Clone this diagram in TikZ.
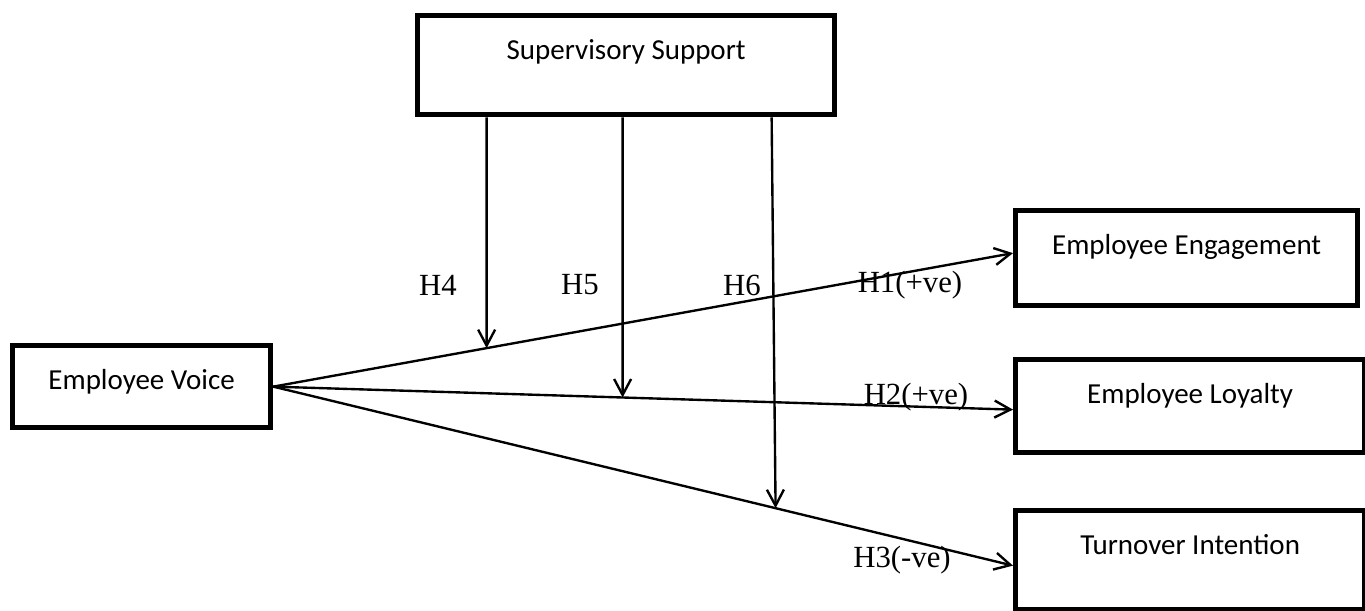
\documentclass[tikz,border=0pt]{standalone}
\usepackage{fontspec}
\setmainfont{Liberation Serif}
\newfontfamily\boxfont{Carlito}
\usetikzlibrary{arrows.meta}
\tikzset{
  varbox/.style={draw=black, line width=3pt, inner sep=0pt, anchor=north west,
    text height=0.88cm, font=\boxfont\fontsize{16.5}{19}\selectfont},
  link/.style={black, line width=1.35pt, -{Straight Barb[length=3.2mm, width=3.4mm, line width=1.35pt]}},
  hyp/.style={inner sep=0pt, font=\fontsize{17.5}{20}\selectfont}
}

\begin{document}
\begin{tikzpicture}
        \useasboundingbox (0,0) rectangle (27.3,12.2);
        % Constructs
        \node[varbox, minimum width=8.34cm, text depth=1.10cm] (ss) at (8.3,11.94) {Supervisory Support};
        \node[varbox, minimum width=5.16cm, text depth=0.76cm] (ev) at (0.2,5.34) {Employee Voice};
        \node[varbox, minimum width=6.84cm, text depth=1.02cm] (ee) at (20.26,8.04) {Employee Engagement};
        \node[varbox, minimum width=6.98cm, text depth=0.98cm] (el) at (20.26,5.06) {Employee Loyalty};
        \node[varbox, minimum width=6.98cm, text depth=1.10cm] (ti) at (20.26,2.04) {Turnover Intention};
        % Entry points on the outcome boxes
        \coordinate (ee-in) at ([yshift=1mm]ee.west);
        \coordinate (el-in) at ([yshift=-0.7mm]el.west);
        \coordinate (ti-in) at ([yshift=-1.1mm]ti.west);
        % Direct paths
        \draw[link] (ev.east) -- (ee-in);
        \draw[link] (ev.east) -- (el-in);
        \draw[link] (ev.east) -- (ti-in);
        % Moderating paths
        \coordinate (h4-top) at ([xshift=-2.79cm]ss.south);
        \coordinate (h5-top) at ([xshift=-0.07cm]ss.south);
        \coordinate (h6-top) at ([xshift=2.91cm]ss.south);
        \coordinate (h4-bot) at (h4-top |- ti.south);
        \coordinate (h5-bot) at (h5-top |- ti.south);
        \coordinate (h6-bot) at ([xshift=0.1cm]h6-top |- ti.south);
        \draw[link] (h4-top) -- (intersection of h4-top--h4-bot and ev.east--ee-in);
        \draw[link] (h5-top) -- (intersection of h5-top--h5-bot and ev.east--el-in);
        \draw[link] (h6-top) -- (intersection of h6-top--h6-bot and ev.east--ti-in);
        % Hypothesis labels
        \node[hyp] (lh4) at (8.76,6.5) {H4};
        \node[hyp] (lh5) at (11.6,6.5) {H5};
        \node[hyp] (lh6) at (14.84,6.5) {H6};
        \node[hyp] (lh1) at (18.2,6.5) {H1(+ve)};
        \node[hyp] (lh2) at (18.32,4.26) {H2(+ve)};
        \node[hyp] (lh3) at (18.04,1.0) {H3(-ve)};
      \end{tikzpicture}
\end{document}
